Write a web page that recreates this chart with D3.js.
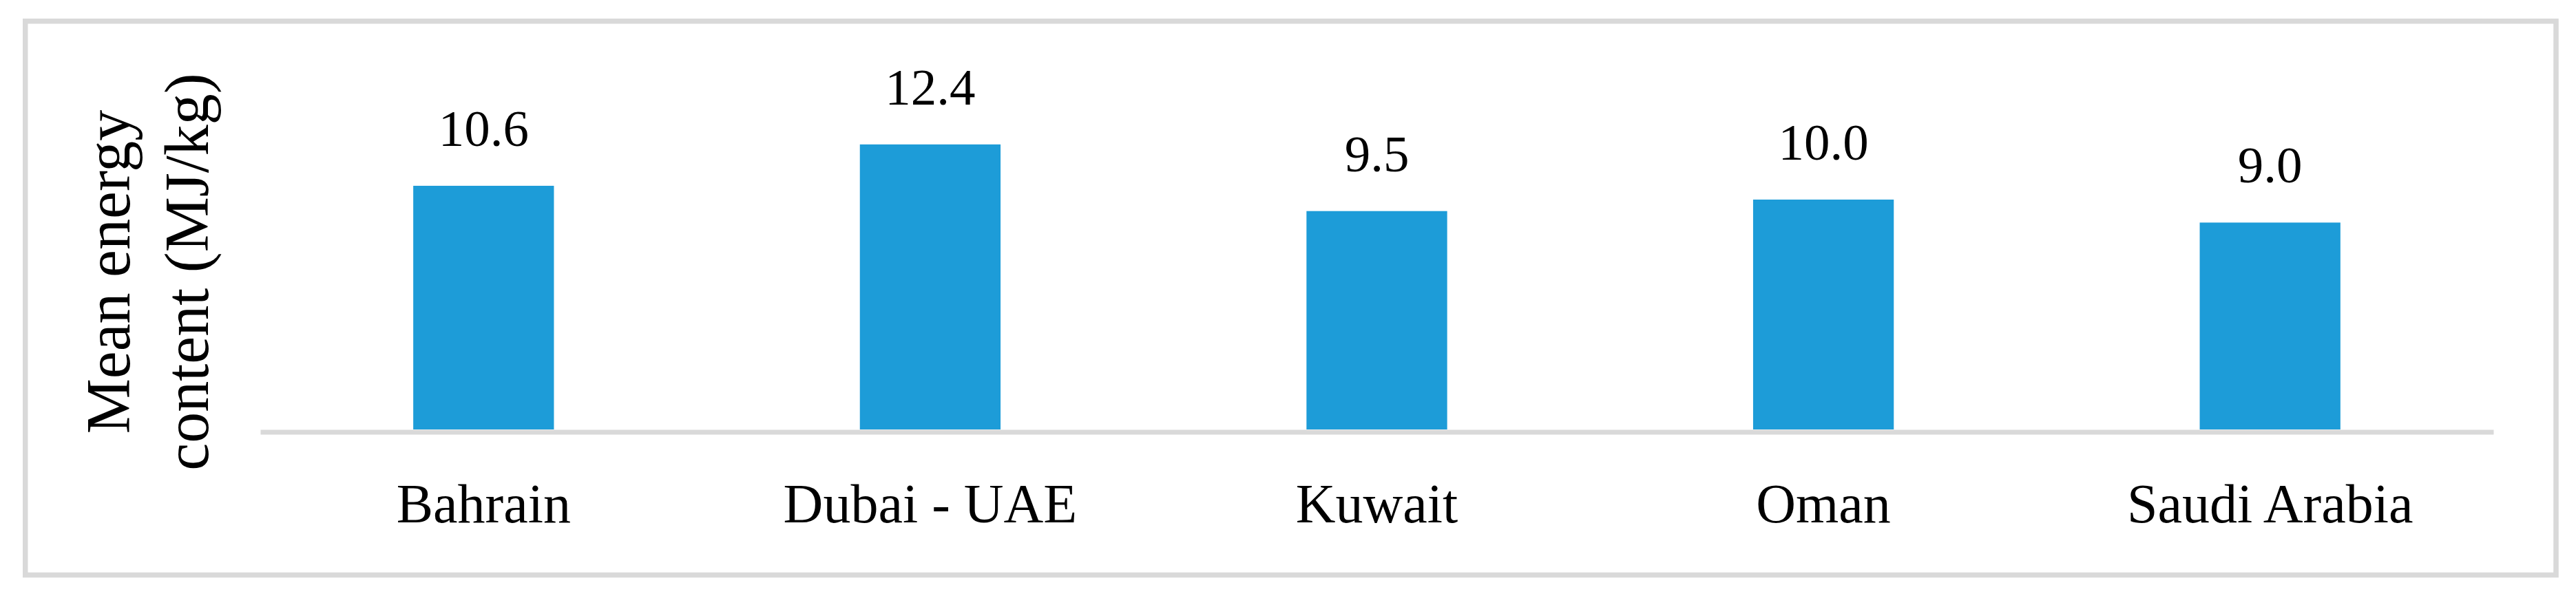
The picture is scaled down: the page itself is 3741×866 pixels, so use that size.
<!DOCTYPE html>
<html>
<head>
<meta charset="utf-8">
<script src="https://cdn.jsdelivr.net/npm/d3@7"></script>
<style>
  html, body { margin: 0; padding: 0; background: #ffffff; }
  svg { display: block; }
  text { font-family: "Liberation Serif", "DejaVu Serif", serif; fill: #000; }
</style>
</head>
<body>
<svg id="chart" width="3741" height="866"></svg>
<script>
const categories = ["Bahrain", "Dubai - UAE", "Kuwait", "Oman", "Saudi Arabia"];
const values = [10.6, 12.4, 9.5, 10.0, 9.0];
const valueLabels = ["10.6", "12.4", "9.5", "10.0", "9.0"];
const yTitleLines = ["Mean energy", "content (MJ/kg)"];
const yDomain = [0, 14];

const svg = d3.select("#chart");
const W = 3741, H = 866;

svg.append("rect").attr("x", 0).attr("y", 0).attr("width", W).attr("height", H).attr("fill", "#fff");

// outer chart border
svg.append("rect")
  .attr("x", 36.75).attr("y", 30.75)
  .attr("width", 3712 - 36.75).attr("height", 835.5 - 30.75)
  .attr("fill", "none").attr("stroke", "#d9d9d9").attr("stroke-width", 7.5);

const plotLeft = 378, plotRight = 3621, baseY = 624;

const x = d3.scaleBand()
  .domain(categories)
  .range([plotLeft, plotRight])
  .paddingInner(0.685)
  .paddingOuter(0.3425);

const y = d3.scaleLinear()
  .domain(yDomain)
  .range([baseY, baseY - 14 * 33.4]);

const data = categories.map((c, i) => ({ c, v: values[i], label: valueLabels[i] }));

// bars
svg.append("g").selectAll("rect")
  .data(data)
  .join("rect")
  .attr("x", d => x(d.c))
  .attr("y", d => y(d.v))
  .attr("width", x.bandwidth())
  .attr("height", d => y(0) - y(d.v))
  .attr("fill", "#1d9cd8");

// x axis
const axisY = 627.5;
const gx = svg.append("g")
  .attr("transform", `translate(0,${axisY})`)
  .call(d3.axisBottom(x).tickSize(0).tickSizeOuter(0));
gx.select(".domain").attr("stroke", "#d9d9d9").attr("stroke-width", 7);
gx.selectAll(".tick text")
  .attr("y", 759 - axisY)
  .attr("dy", null)
  .style("font-family", '"Liberation Serif", serif')
  .style("font-size", "80px")
  .attr("fill", "#000");

// value labels
svg.append("g").selectAll("text")
  .data(data)
  .join("text")
  .attr("x", d => x(d.c) + x.bandwidth() / 2)
  .attr("y", d => y(d.v) - 58)
  .attr("text-anchor", "middle")
  .style("font-size", "75px")
  .text(d => d.label);

// y title (two lines, rotated)
const yTitle = svg.append("text")
  .attr("transform", "translate(0,395) rotate(-90)")
  .attr("text-anchor", "middle")
  .style("font-size", "90px");
yTitle.selectAll("tspan")
  .data(yTitleLines)
  .join("tspan")
  .attr("x", 0)
  .attr("y", (d, i) => i === 0 ? 188 : 302)
  .text(d => d);
</script>
</body>
</html>
